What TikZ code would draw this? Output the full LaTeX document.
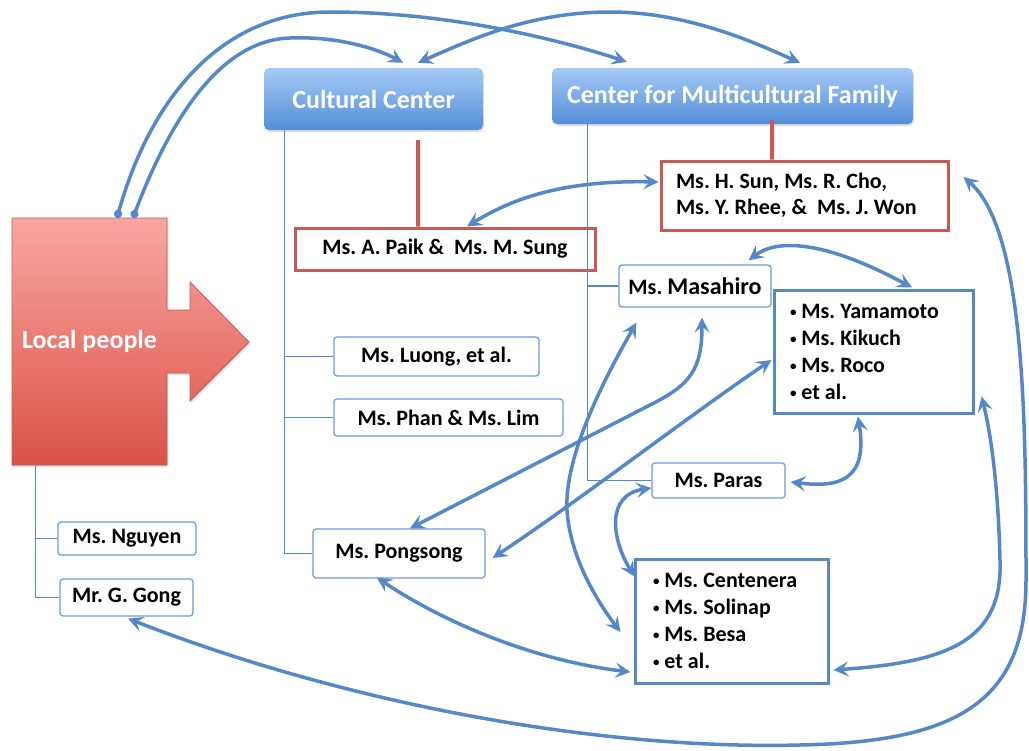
\documentclass[tikz,border=0pt]{standalone}
\usepackage{fontspec}
\setmainfont{Carlito}
\usepackage{tikz}
\usetikzlibrary{arrows.meta,shadows}
\frenchspacing
\definecolor{linkblue}{RGB}{84,136,198}
\definecolor{boxblue}{RGB}{110,155,210}
\definecolor{tiered}{RGB}{200,90,85}
\definecolor{headtop}{RGB}{166,202,246}
\definecolor{headbot}{RGB}{82,142,214}
\definecolor{localtop}{RGB}{250,166,162}
\definecolor{localbot}{RGB}{217,82,72}
\newcommand{\dotitem}{\raisebox{2bp}{\fontsize{13bp}{13bp}\selectfont\textbullet}\ }
\tikzstyle{person}=[draw=boxblue,line width=1.2bp,rounded corners=3bp,fill=white,inner sep=0pt,font=\bfseries\fontsize{22bp}{26bp}\selectfont]
\tikzstyle{header}=[rounded corners=5bp,top color=headtop,bottom color=headbot,text=white,inner sep=0pt,font=\bfseries\fontsize{26bp}{30bp}\selectfont,drop shadow={opacity=0.25,shadow xshift=1bp,shadow yshift=-2bp}]
\tikzstyle{group}=[draw=tiered,line width=3bp,fill=white,inner sep=0pt,font=\bfseries\fontsize{22bp}{26bp}\selectfont]
\tikzstyle{crowd}=[draw=linkblue,line width=3bp,fill=white,align=flush left,inner ysep=0pt,font=\bfseries\fontsize{22bp}{27bp}\selectfont]
\tikzstyle{tree}=[draw=linkblue,line width=1.2bp]
\tikzstyle{tie}=[draw=tiered,line width=4bp]
\tikzstyle{link}=[draw=linkblue,line width=3.5bp,>={Stealth[length=15bp,width=15bp,inset=6bp]}]

\begin{document}
\begin{tikzpicture}[x=1bp,y=-1bp]
    \useasboundingbox (0,0) rectangle (1029,751);
    % Local people, a box with an arrow on its right side
    \path[top color=localtop,bottom color=localbot,draw=tiered,line width=0.8bp,drop shadow={opacity=0.25,shadow xshift=1bp,shadow yshift=-2bp}]
        (12,218) -- (167,218) -- (167,310) -- (190,310) -- (190,282) -- (249,342)
        -- (190,401) -- (190,373) -- (167,373) -- (167,465) -- (12,465) -- cycle;
    \node (local) at (89.5,341.5) [minimum width=155bp,minimum height=247bp,inner sep=0pt,text=white,font=\bfseries\fontsize{26bp}{30bp}\selectfont] {Local people};

    % The two centres
    \node[header,minimum width=219bp,minimum height=62bp] (cc) at (373.5,99) {Cultural Center};
    \node[header,minimum width=361bp,minimum height=56bp] (cmf) at (732.5,96) {Center for Multicultural Family};

    % Groups tied to the centres
    \node[group,minimum width=300bp,minimum height=42bp] (paik) at (445,249) {Ms. A. Paik \&\ \ Ms. M. Sung};
    \node[group,minimum width=287bp,minimum height=69bp,text width=257bp,align=flush left,inner xsep=15bp] (sun) at (804.5,195.5)
        {Ms. H. Sun, Ms. R. Cho,\\Ms. Y. Rhee, \&\ \ Ms. J. Won};

    % Single people
    \foreach \pos/\name/\boxw/\boxh/\txt in {{(436.5,356.5)/luong/205bp/39bp/Ms. Luong, et al.},
        {(448.5,417.5)/phan/229bp/37bp/Ms. Phan \& Ms. Lim},
        {(399,553.5)/pong/172bp/49bp/Ms. Pongsong},
        {(718.5,480.5)/paras/133bp/35bp/Ms. Paras},
        {(127,538.5)/nguyen/138bp/33bp/Ms. Nguyen},
        {(126.5,597.5)/gong/133bp/37bp/Mr. G. Gong}}
        \node[person,minimum width=\boxw,minimum height=\boxh] (\name) at \pos {\txt};
    \node[person,minimum width=152bp,minimum height=42bp] (mas) at (695,286) {Ms. {\fontsize{24bp}{26bp}\selectfont Masahiro}};

    % Lists of people
    \node[crowd,minimum height=123bp,text width=167bp,inner xsep=16bp] (yam) at (873.5,351.5)
        {\dotitem Ms. Yamamoto\\\dotitem Ms. Kikuch\\\dotitem Ms. Roco\\\dotitem et al.};
    \node[crowd,minimum height=124bp,text width=157bp,inner xsep=18bp] (cent) at (731.5,621)
        {\dotitem Ms. Centenera\\\dotitem Ms. Solinap\\\dotitem Ms. Besa\\\dotitem et al.};

    % Trees below the centres and below local people
    \foreach \dest in {luong, phan, pong}
        \draw[tree] ([xshift=21bp]cc.south west) |- (\dest.west);
    \foreach \dest in {mas, paras}
        \draw[tree] ([xshift=36bp]cmf.south west) |- (\dest.west);
    \foreach \dest in {nguyen, gong}
        \draw[tree] ([xshift=24bp]local.south west) |- (\dest.west);

    % Ties to the groups
    \draw[tie] ([xshift=-27bp]paik.north) -- ([xshift=44.5bp,yshift=-10bp]cc.south);
    \draw[tie] ([xshift=-32.5bp]sun.north) -- ([xshift=39.5bp,yshift=4bp]cmf.south);

    % Links between people
    \draw[link,{Circle[length=8bp]}->] ([xshift=27.5bp]local.north) .. controls (150,100) and (220,12) .. (330,12)
        .. controls (450,12) and (560,40) .. ([xshift=75bp,yshift=6bp]cmf.north west);
    \draw[link,{Circle[length=8bp]}->] ([xshift=43.5bp]local.north) .. controls (170,120) and (220,40) .. (290,38)
        .. controls (340,36) and (380,50) .. ([xshift=29.5bp,yshift=5bp]cc.north);
    \draw[link,<->] ([xshift=44.5bp,yshift=5bp]cc.north) .. controls (470,40) and (530,12) .. (610,12)
        .. controls (690,12) and (760,45) .. ([xshift=67.5bp,yshift=5bp]cmf.north);
    \draw[link,<->] ([xshift=22bp]paik.north) .. controls (510,200) and (560,180) .. ([xshift=-1bp,yshift=13.5bp]sun.west);
    \draw[link,<->] ([xshift=-23bp,yshift=4bp]mas.north east) .. controls (775,240) and (820,238) .. ([xshift=38.5bp,yshift=1bp]yam.north);
    \draw[link,<->] ([xshift=18bp,yshift=-15bp]mas.south west) .. controls (595,395) and (560,470) .. (568,520)
        .. controls (574,565) and (600,605) .. ([xshift=-13bp,yshift=-11bp]cent.west);
    \draw[link,<->] ([xshift=7bp,yshift=-10bp]mas.south) .. controls (702,370) and (690,385) .. (650,405)
        -- ([xshift=11bp]pong.north);
    \draw[link,<->] ([xshift=7bp,yshift=-4.5bp]pong.east) .. controls (580,500) and (690,415) .. ([xshift=-1bp,yshift=-8.5bp]yam.west);
    \draw[link,<->] ([xshift=5bp,yshift=-1.5bp]paras.east) .. controls (840,488) and (868,480) .. ([xshift=-15.5bp,yshift=-2bp]yam.south);
    \draw[link,<->] ([yshift=-7.5bp]paras.west) .. controls (605,495) and (612,540) .. ([xshift=1bp,yshift=-19bp]cent.north west);
    \draw[link,<->] ([xshift=-22bp,yshift=1bp]pong.south) .. controls (440,620) and (530,660) .. ([xshift=-3bp,yshift=-51bp]cent.west);
    \draw[link,<->] ([xshift=1.5bp,yshift=-2bp]gong.south) .. controls (350,705) and (600,750) .. (800,745)
        .. controls (960,742) and (1026,700) .. (1026,580) .. controls (1026,420) and (1025,230) .. ([xshift=14bp,yshift=18.5bp]sun.east);
    \draw[link,<->] ([xshift=4bp,yshift=-49bp]cent.east) .. controls (950,662) and (1003,640) .. (1000,560)
        .. controls (998,480) and (990,430) .. ([xshift=7bp,yshift=18bp]yam.south east);
\end{tikzpicture}
\end{document}
